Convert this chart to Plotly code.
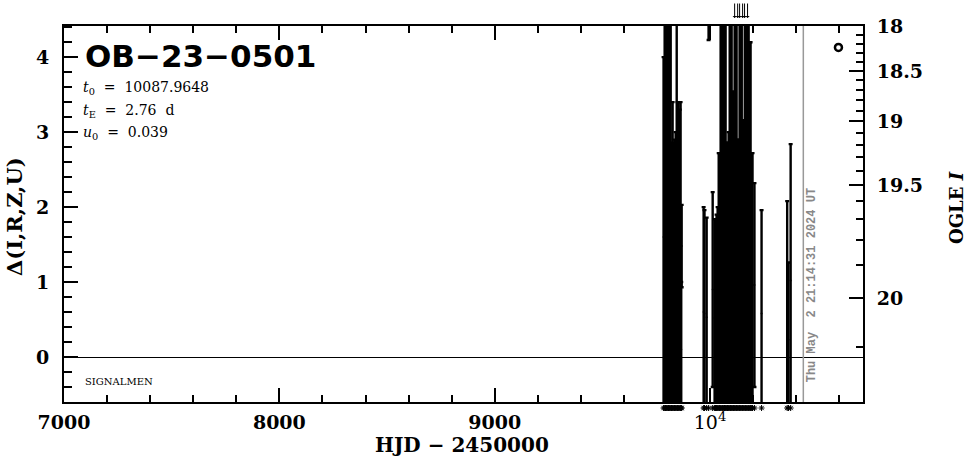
import numpy as np
import plotly.graph_objects as go

# ---------------- data ----------------
# observation epochs (HJD - 2450000), Δ(I,R,Z,U) values and their errors
hjd = [9784, 9789, 9793, 9798, 9803, 9807, 9812, 9817, 9821, 9826,
       9831, 9835, 9840, 9845, 9849, 9854, 9859, 9863, 9866, 9868,
       9970, 9974, 9984, 9993, 10012,
       10021, 10025, 10030, 10035, 10040, 10044, 10049, 10054, 10058, 10063,
       10067, 10072, 10077, 10081, 10086, 10091, 10095, 10100, 10105, 10109,
       10114, 10119, 10123, 10128, 10133, 10137, 10142, 10147, 10151, 10156,
       10161, 10165, 10170, 10175, 10179, 10184, 10188, 10193, 10197,
       10206, 10239,
       10358, 10364, 10374]
delta = [1.60, 2.00, 2.00, 2.00, 2.00, 2.00, 2.00, 2.00, 1.03, 1.30,
         1.03, 1.05, 1.10, 2.00, 1.30, 1.30, 1.25, 1.30, 0.10, 1.48,
         0.60, 0.58, 0.53, 4.62, 0.90,
         0.52, 0.52, 0.55, 0.60, 0.96, 0.96, 2.00, 2.00, 2.00, 2.00,
         2.00, 2.00, 1.03, 1.03, 1.10, 2.00, 2.00, 2.00, 1.37, 1.37,
         2.00, 2.00, 2.00, 1.05, 1.05, 2.00, 2.00, 2.00, 1.18, 1.18,
         2.00, 2.00, 2.00, 2.00, 2.00, 1.70, 1.70, 0.96, 0.96,
         0.96, 0.58,
         0.64, 0.23, 1.02]
delta_err = [2.40, 3.00, 3.00, 3.00, 3.00, 3.00, 3.00, 3.00, 1.83, 2.10,
             1.83, 1.85, 1.90, 3.00, 2.10, 2.10, 2.05, 2.10, 0.90, 0.55,
             1.40, 1.38, 1.33, 0.39, 1.30,
             1.32, 1.32, 1.35, 1.40, 1.76, 1.76, 3.00, 3.00, 3.00, 3.00,
             3.00, 3.00, 1.83, 1.83, 1.90, 3.00, 3.00, 3.00, 2.17, 2.17,
             3.00, 3.00, 3.00, 1.85, 1.85, 3.00, 3.00, 3.00, 1.98, 1.98,
             3.00, 3.00, 3.00, 3.00, 3.00, 2.50, 2.50, 1.76, 1.76,
             1.36, 1.38,
             1.44, 1.03, 1.82]

# epochs of points above the plotted range (arrows on top)
hjd_above = [10114, 10128, 10137, 10151, 10160, 10174]

# extra symbol in the upper right
circle_hjd = [10596]
circle_delta = [4.13]

# model / annotation values
event_name = "OB−23−0501"
t0_text = "10087.9648"
tE_text = "2.76"
u0_text = "0.039"
now_hjd = 10432.9
now_text = "Thu May \u00a02 21:14:31 2024 UT"

# x axis ticks
x_major = [7000, 8000, 9000, 10000]
x_labels = ["<b>7000</b>", "<b>8000</b>", "<b>9000</b>", "10<sup>4</sup>"]
y_major = [0, 1, 2, 3, 4]
y_labels = ["<b>0</b>", "<b>1</b>", "<b>2</b>", "<b>3</b>", "<b>4</b>"]

# right axis: OGLE I magnitudes
I_major = [18.0, 18.5, 19.0, 19.5, 20.0]
I_labels = ["<b>18</b>", "<b>18.5</b>", "<b>19</b>", "<b>19.5</b>", "<b>20</b>"]
I_minor = [round(18.0 + 0.1 * k, 1) for k in range(22)]
I_base = 20.115      # baseline magnitude
blend = 0.895        # blend flux fraction at baseline


def mag_to_delta(I):
    f = 10 ** (-0.4 * (np.asarray(I, dtype=float) - I_base))
    a = (f - blend) / (1 - blend)
    return 2.5 * np.log10(a)


X_RANGE = [7000, 10710]
Y_RANGE = [-0.6, float(mag_to_delta(18.0)) + 0.002]

I_major_pos = [float(v) for v in mag_to_delta(I_major)]
I_minor_pos = []
for I in I_minor:
    v = float(mag_to_delta(I))
    if np.isfinite(v) and Y_RANGE[0] <= v <= Y_RANGE[1]:
        I_minor_pos.append(v)

# ---------------- layout geometry (pixels) ----------------
W, H = 966, 459
L, R, T = 64, 863, 26          # plot box left / right / top
AXIS_Y = 402                   # bottom of main plot box
STRIP_Y = 414                  # bottom of the asterisk strip
PH = STRIP_Y - T
main_bottom = (STRIP_Y - AXIS_Y) / PH


def px(x):
    return (x - L) / (R - L)


def py(y):
    return (STRIP_Y - y) / PH


# ---------------- figure ----------------
SERIF = "DejaVu Serif"
NB = "\u00a0"
fig = go.Figure()

fig.add_trace(go.Scatter(
    x=hjd, y=delta, mode="markers",
    marker=dict(size=2, color="black"),
    error_y=dict(type="data", array=delta_err, symmetric=True,
                 color="black", thickness=2.4, width=2),
    hoverinfo="skip"))

# asterisks under the axis marking the epochs
fig.add_trace(go.Scatter(
    x=hjd, y=[0.0] * len(hjd), mode="markers", yaxis="y3",
    marker=dict(symbol="asterisk-open", size=5, color="black",
                line=dict(color="black", width=1)),
    hoverinfo="skip"))

fig.add_trace(go.Scatter(
    x=circle_hjd, y=circle_delta, mode="markers", xaxis="x2", yaxis="y2",
    marker=dict(symbol="circle-open", size=7, color="black",
                line=dict(color="black", width=2.5)),
    hoverinfo="skip"))

axis_common = dict(showgrid=False, showline=True, linecolor="black",
                   linewidth=2, ticks="inside", tickcolor="black",
                   tickwidth=2, automargin=False)
minor_x = dict(tick0=7000, dtick=200, ticks="inside", ticklen=7,
               tickwidth=2, tickcolor="black")

fig.update_layout(
    width=W, height=H,
    margin=dict(l=L, r=W - R, t=T, b=H - STRIP_Y, autoexpand=False),
    paper_bgcolor="white", plot_bgcolor="white",
    showlegend=False, hovermode=False,
    xaxis=dict(range=X_RANGE, tickmode="array", tickvals=x_major,
               ticktext=x_labels, ticklen=14, zeroline=False,
               anchor="y", ticklabelstandoff=2,
               tickfont=dict(family=SERIF, size=19, color="black"),
               minor=minor_x, **axis_common),
    xaxis2=dict(range=X_RANGE, overlaying="x", side="top", anchor="y",
                tickmode="array", tickvals=x_major, ticklen=14,
                showticklabels=False, zeroline=False,
                minor=minor_x, **axis_common),
    yaxis=dict(range=Y_RANGE, domain=[main_bottom, 1], anchor="x",
               tickmode="array", tickvals=y_major,
               ticktext=y_labels, ticklen=14, ticklabelstandoff=9,
               tickfont=dict(family=SERIF, size=19, color="black"),
               zeroline=True, zerolinecolor="black", zerolinewidth=1,
               minor=dict(tick0=0, dtick=0.2, ticks="inside",
                          ticklen=8, tickwidth=2, tickcolor="black"),
               **axis_common),
    yaxis2=dict(range=Y_RANGE, overlaying="y", side="right", anchor="x",
                tickmode="array", tickvals=I_major_pos, ticktext=I_labels,
                ticklen=14, zeroline=False, ticklabelstandoff=8,
                tickfont=dict(family=SERIF, size=19, color="black"),
                minor=dict(tickmode="array", tickvals=I_minor_pos,
                           ticks="inside", ticklen=7, tickwidth=2,
                           tickcolor="black"),
                **axis_common),
    yaxis3=dict(range=[-1, 1], domain=[0, main_bottom], anchor="x",
                visible=False, fixedrange=True),
)

# "now" line
fig.add_shape(type="line", xref="x", yref="paper", x0=now_hjd, x1=now_hjd,
              y0=main_bottom, y1=1, line=dict(color="#999999", width=1.5))

ann = []
# arrows for points above the range
for t in hjd_above:
    ann.append(dict(x=t, y=py(18), xref="x", yref="paper", text="",
                    showarrow=True, ax=0, ay=-16, arrowhead=1,
                    arrowsize=0.7, arrowwidth=1, arrowcolor="black"))

eq = NB + "=" + NB + NB
ann += [
    dict(x=px(83), y=py(56), xref="paper", yref="paper", text=event_name,
         showarrow=False, xanchor="left", yanchor="middle",
         font=dict(family="DejaVu Sans", size=31, color="black",
                   weight="bold")),
    dict(x=px(81), y=py(88), xref="paper", yref="paper",
         text="<i>t</i><sub>0</sub>" + NB + eq + t0_text, showarrow=False,
         xanchor="left", yanchor="middle",
         font=dict(family=SERIF, size=14, color="black")),
    dict(x=px(81), y=py(111), xref="paper", yref="paper",
         text="<i>t</i><sub>E</sub>" + NB + eq + tE_text + NB + NB + "d",
         showarrow=False, xanchor="left", yanchor="middle",
         font=dict(family=SERIF, size=14, color="black")),
    dict(x=px(81), y=py(133), xref="paper", yref="paper",
         text="<i>u</i><sub>0</sub>" + NB + eq + u0_text, showarrow=False,
         xanchor="left", yanchor="middle",
         font=dict(family=SERIF, size=14, color="black")),
    dict(x=px(83), y=py(381), xref="paper", yref="paper", text="SIGNALMEN",
         showarrow=False, xanchor="left", yanchor="middle",
         font=dict(family=SERIF, size=10, color="black")),
    dict(x=now_hjd, xshift=9, y=py(285), xref="x", yref="paper",
         text="<b>" + now_text + "</b>", showarrow=False, textangle=-90,
         xanchor="center", yanchor="middle",
         font=dict(family="Liberation Mono", size=12, color="#888888")),
    dict(x=px(462), y=py(445), xref="paper", yref="paper",
         text="<b>HJD − 2450000</b>", showarrow=False,
         xanchor="center", yanchor="middle",
         font=dict(family=SERIF, size=20, color="black")),
    dict(x=px(14), y=py(217), xref="paper", yref="paper",
         text="<b>Δ(I,R,Z,U)</b>", showarrow=False, textangle=-90,
         xanchor="center", yanchor="middle",
         font=dict(family=SERIF, size=21, color="black")),
    dict(x=px(956), y=py(208), xref="paper", yref="paper",
         text="<b>OGLE <i>I</i></b>", showarrow=False, textangle=-90,
         xanchor="center", yanchor="middle",
         font=dict(family=SERIF, size=18, color="black")),
]
fig.update_layout(annotations=ann)

# remove the browser's default page margin so the figure sits at (0, 0)
fig.write_html("out.html", config={"displayModeBar": False},
               post_script="document.body.style.margin='0px';")
